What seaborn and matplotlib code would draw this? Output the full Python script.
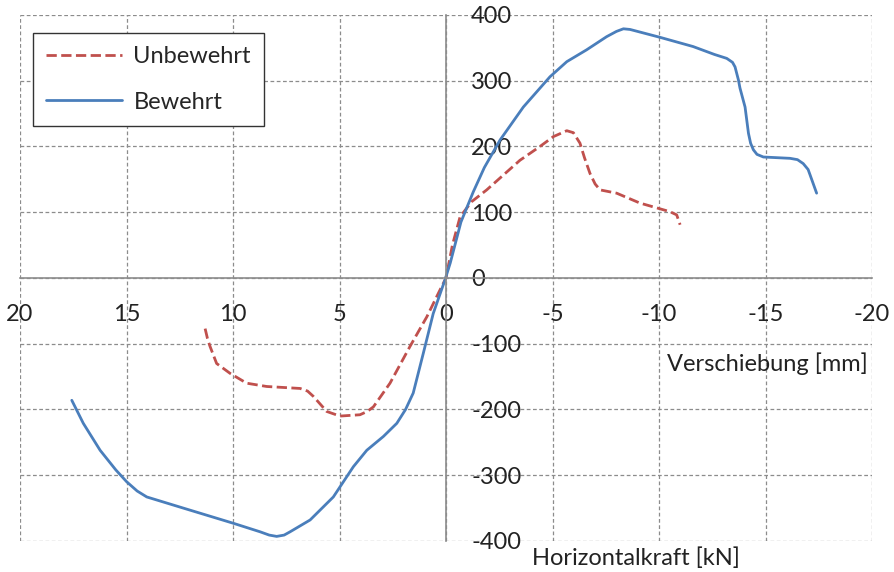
import pandas as pd
import matplotlib.pyplot as plt
import seaborn as sns

unbewehrt_x = [11.31, 11.2, 11.08, 10.77, 10.14, 9.36, 8.42, 6.85, 6.5, 6.23, 5.9, 5.6, 4.98,
               4.04, 3.7, 3.41, 2.63, 1.69, 0.9, 0.28, 0.0, -0.3, -0.66, -1.2, -1.91, -3.47,
               -4.41, -5.04, -5.67, -5.98, -6.29, -6.5, -6.76, -7.0, -7.23, -8.01, -9.1,
               -10.5, -10.83, -10.99]
unbewehrt_y = [-77, -92, -104, -130, -145, -160, -165, -168, -172, -180, -192, -203, -210,
               -208, -203, -196, -160, -104, -59, -18, 0, 50, 93, 116, 134, 179,
               200, 215, 224, 221, 205, 183, 159, 143, 134, 129, 114,
               101, 96, 81]

bewehrt_x = [17.57, 17.03, 16.24, 15.5, 14.99, 14.5, 14.05, 12.33, 9.99, 8.73, 8.3, 7.95, 7.6,
             7.32, 6.38, 5.29, 4.35, 3.72, 2.94, 2.31, 1.9, 1.54, 1.07, 0.6, 0.05, -0.2,
             -0.7, -1.28, -1.8, -2.54, -3.63, -4.88, -5.67, -6.6, -7.54, -8.0, -8.33, -8.64,
             -10.05, -11.6, -12.6, -13.18, -13.45, -13.57, -13.73, -13.8, -14.04, -14.2,
             -14.3, -14.43, -14.6, -14.9, -16.15, -16.5, -16.77, -17.0, -17.09, -17.4]
bewehrt_y = [-186, -221, -262, -292, -310, -324, -333, -350, -373, -386, -391, -393, -391,
             -386, -368, -333, -287, -262, -241, -221, -200, -175, -115, -54, -3, 23,
             85, 131, 168, 210, 260, 306, 329, 347, 367, 375, 379, 378,
             366, 352, 340, 334, 328, 321, 301, 289, 260, 220,
             205, 195, 188, 184, 182, 180, 174, 165, 157, 129]

df_u = pd.DataFrame({'x': unbewehrt_x, 'y': unbewehrt_y})
df_b = pd.DataFrame({'x': bewehrt_x, 'y': bewehrt_y})

sns.set_theme(style="whitegrid")
plt.rcParams['font.family'] = ['Lato', 'DejaVu Sans']
plt.rcParams['axes.unicode_minus'] = False

fig, ax = plt.subplots(figsize=(8.94, 5.72), dpi=100)
fig.subplots_adjust(left=0.0224, right=0.9754, top=0.9738, bottom=0.0542)

sns.lineplot(data=df_u, x='x', y='y', sort=False, estimator=None, ax=ax,
             color='#C0504D', linestyle='--', linewidth=2, label='Unbewehrt',
             dash_joinstyle='round')
sns.lineplot(data=df_b, x='x', y='y', sort=False, estimator=None, ax=ax,
             color='#4A7EBB', linewidth=2, label='Bewehrt', solid_joinstyle='round')

ax.set_xlim(20, -20)
ax.set_ylim(-400, 400)
ax.set_xticks(range(-20, 21, 5))
ax.set_yticks(range(-400, 401, 100))
ax.grid(True, color='#8C8C8C', linestyle=(0, (3, 2)), linewidth=0.9)

for s in ['top', 'left']:
    ax.spines[s].set_visible(False)
ax.spines['bottom'].set_position(('data', 0))
ax.spines['right'].set_position(('data', 0))
for s in ['bottom', 'right']:
    ax.spines[s].set_visible(True)
    ax.spines[s].set_color('#8C8C8C')
    ax.spines[s].set_linewidth(1.2)
ax.yaxis.tick_right()
ax.tick_params(axis='y', length=0, pad=18, labelsize=17, labelcolor='#222222')
ax.tick_params(axis='x', length=0, pad=19, labelsize=17, labelcolor='#222222')

ax.set_xlabel('Verschiebung [mm]', fontsize=17, color='#222222', ha='right', va='center')
ax.xaxis.set_label_coords(0.9953, 0.338)
ax.set_ylabel('Horizontalkraft [kN]', fontsize=17, color='#222222', rotation=0,
              ha='left', va='center')
ax.yaxis.set_label_position('right')
ax.yaxis.set_label_coords(0.601, -0.012)

leg = ax.legend(loc='upper left', bbox_to_anchor=(0.0153, 0.9658), fontsize=17,
                fancybox=False, framealpha=1, edgecolor='#333333', handlelength=3.2,
                labelspacing=1.05, borderpad=0.55, handletextpad=0.5, borderaxespad=0)
leg.get_frame().set_linewidth(1.0)

plt.savefig('out.png')
